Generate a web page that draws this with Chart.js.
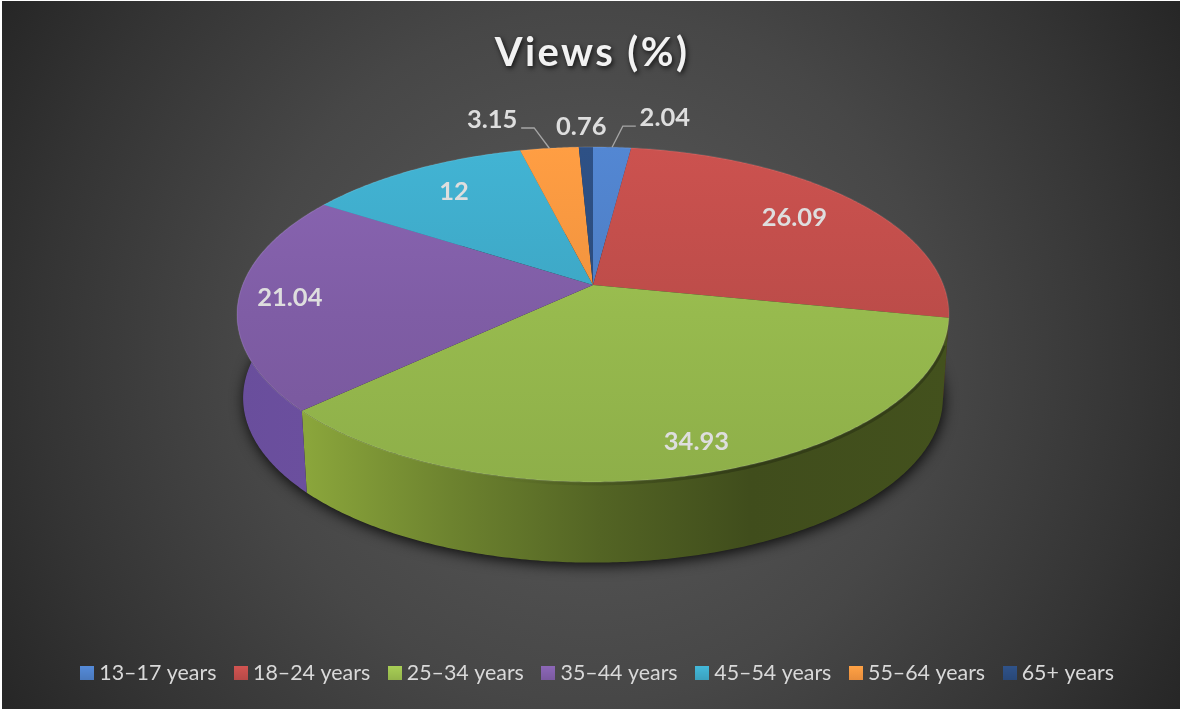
<!DOCTYPE html>
<html><head><meta charset="utf-8">
<script src="https://cdn.jsdelivr.net/npm/chart.js@4"></script>
<style>html,body{margin:0;padding:0;background:#fff}canvas{display:block}</style></head>
<body><div style="width:1182px;height:711px"><canvas id="c" width="1182" height="711"></canvas></div>
<script>
const categories = ['13–17 years','18–24 years','25–34 years','35–44 years','45–54 years','55–64 years','65+ years'];
const views = [2.04, 26.09, 34.93, 21.04, 12, 3.15, 0.76];
const valueLabels = ['2.04','26.09','34.93','21.04','12','3.15','0.76'];
const sliceColors = ['#4f81c9','#c24e4b','#9cc050','#8360aa','#3fabca','#f79640','#2c4d80'];
const wallColors = ['#4f81c9','#c24e4b','#a0c045','#7c5cb8','#3fabca','#f79640','#2c4d80'];

// Perspective of the flat disc (apex, half-axes, foreshortening)
const P = {cx:593, cy:285, a:350.4, b:162.3, k:0.176, depth:84, lowScale:0.983};
// label placement: radius fraction and angle nudge (deg) relative to the slice mid angle
const labelPlace = [[1.28,7.6],[0.763,0],[0.864,-1.1],[0.857,0],[0.775,1],[1.287,-7.4],[1.176,-0.6]];

function proj(t, r, low){
  const u=r*Math.cos(t), v=r*Math.sin(t), w=1-P.k*v, s=low?P.lowScale:1;
  return {x:P.cx+P.a*s*u/w, y:P.cy+(low?P.depth:0)+P.b*s*v/w};
}
function rgb(h){return [1,3,5].map(i=>parseInt(h.substr(i,2),16));}
function shade(h,m){return 'rgb('+rgb(h).map(c=>Math.min(255,Math.round(c*m))).join(',')+')';}
function arcPts(a0,a1,low){
  const n=Math.max(2,Math.ceil(Math.abs(a1-a0)/0.01)), out=[];
  for(let i=0;i<=n;i++) out.push(proj(a0+(a1-a0)*i/n,1,low));
  return out;
}
const wallStops=[[0,.85],[.10,.86],[.30,.68],[.51,.52],[.72,.40],[1,.42]];

function legendSwatch(color){
  const s=document.createElement('canvas'); s.width=14; s.height=14;
  const x=s.getContext('2d'), g=x.createLinearGradient(0,0,0,14);
  g.addColorStop(0,shade(color,1.08)); g.addColorStop(1,shade(color,.94));
  x.fillStyle=g; x.fillRect(0,0,14,14);
  return s;
}

const pie3d = {
  id:'pie3d',
  beforeDraw(chart){
    const c=chart.ctx;
    c.save();
    c.fillStyle='#fff'; c.fillRect(0,0,1182,711);
    const g=c.createRadialGradient(591,355,0,591,355,690);
    g.addColorStop(0,'#5c5c5c'); g.addColorStop(.5,'#474747'); g.addColorStop(.8,'#343434'); g.addColorStop(1,'#262626');
    c.fillStyle=g; c.fillRect(2,1,1178,708);
    c.restore();
    if(chart.titleBlock && !chart.titleBlock._wrapped){
      const tb=chart.titleBlock, orig=tb.draw;
      tb._wrapped=true;
      tb.draw=function(){
        const x=this.ctx; x.save();
        x.translate(-8,0);
        x.letterSpacing='2.4px'; x.shadowColor='rgba(0,0,0,.75)'; x.shadowBlur=5; x.shadowOffsetX=1.5; x.shadowOffsetY=2;
        orig.apply(this,arguments); x.restore();
      };
    }
  },
  beforeDatasetsDraw(chart){
    const c=chart.ctx, arcs=chart.getDatasetMeta(0).data;
    c.save();
    // drop shadow under the lower disc
    c.save();
    c.shadowColor='rgba(0,0,0,.85)'; c.shadowBlur=14; c.shadowOffsetY=3; c.shadowOffsetX=1;
    c.fillStyle='#222'; c.beginPath();
    arcPts(0,Math.PI*2,true).forEach((p,i)=>i?c.lineTo(p.x,p.y):c.moveTo(p.x,p.y));
    c.closePath(); c.fill(); c.restore();
    // outer walls
    arcs.forEach((el,i)=>{
      const up=arcPts(el.startAngle,el.endAngle,false), lo=arcPts(el.startAngle,el.endAngle,true).reverse();
      const g=c.createLinearGradient(237,0,949,0);
      wallStops.forEach(s=>g.addColorStop(s[0],shade(wallColors[i],s[1])));
      c.fillStyle=g; c.beginPath();
      up.concat(lo).forEach((p,j)=>j?c.lineTo(p.x,p.y):c.moveTo(p.x,p.y));
      c.closePath(); c.fill();
    });
    // dark contact band just below the top rim, fading out toward the lit side
    c.save();
    const band=c.createLinearGradient(480,0,720,0);
    band.addColorStop(0,'rgba(0,0,0,0)'); band.addColorStop(1,'rgba(0,0,0,.22)');
    c.strokeStyle=band; c.lineWidth=5; c.beginPath();
    arcPts(0.35,Math.PI-0.35,false).forEach((p,j)=>j?c.lineTo(p.x,p.y+1):c.moveTo(p.x,p.y+1)); c.stroke();
    c.restore();
    // top face
    arcs.forEach((el,i)=>{
      const rim=arcPts(el.startAngle,el.endAngle,false);
      const g=c.createLinearGradient(0,147,0,482);
      g.addColorStop(0,shade(sliceColors[i],1.05)); g.addColorStop(.5,shade(sliceColors[i],.97)); g.addColorStop(1,shade(sliceColors[i],.91));
      c.fillStyle=g; c.beginPath(); c.moveTo(P.cx,P.cy);
      rim.forEach(p=>c.lineTo(p.x,p.y)); c.closePath(); c.fill();
      c.strokeStyle='rgba(255,255,255,.10)'; c.lineWidth=1.4; c.beginPath();
      rim.forEach((p,j)=>j?c.lineTo(p.x,p.y):c.moveTo(p.x,p.y)); c.stroke();
    });
    // data labels and leader lines
    c.font='bold 25.5px Lato'; c.fillStyle='#dedede'; c.textAlign='center'; c.textBaseline='middle';
    arcs.forEach((el,i)=>{
      const mid=(el.startAngle+el.endAngle)/2, pl=labelPlace[i], t=mid+pl[1]*Math.PI/180;
      const p=proj(t,pl[0],false);
      if(pl[0]>1 && Math.abs(pl[1])>2){
        const dir=pl[1]>0?-1:1, r=proj(mid,1,false);
        const y=p.y+8;
        c.save(); c.strokeStyle='#a6a6a6'; c.lineWidth=1.3; c.beginPath();
        c.moveTo(p.x+dir*29,y); c.lineTo(p.x+dir*42,y); c.lineTo(r.x,r.y); c.stroke(); c.restore();
      }
      c.fillText(valueLabels[i],p.x,p.y);
    });
    c.restore();
    return false;
  }
};

new Chart(document.getElementById('c'),{
  type:'pie',
  data:{labels:categories,datasets:[{data:views,backgroundColor:sliceColors,borderWidth:0}]},
  plugins:[pie3d],
  options:{
    responsive:false,animation:false,
    layout:{padding:{top:29,bottom:17,left:18,right:0}},
    plugins:{
      tooltip:{enabled:false},
      title:{display:true,text:'Views (%)',color:'#f2f2f2',font:{family:'Lato',size:40,weight:'bold'},padding:{top:0,bottom:0}},
      legend:{position:'bottom',labels:{color:'#d9d9d9',font:{family:'Lato',size:21.4},boxWidth:14,boxHeight:14,padding:23.3,
        usePointStyle:true,pointStyleWidth:2.6,
        generateLabels(chart){
          return Chart.overrides.pie.plugins.legend.labels.generateLabels(chart).map((it,i)=>{it.pointStyle=legendSwatch(sliceColors[i]);return it;});
        }}}
    }
  }
});
</script></body></html>
